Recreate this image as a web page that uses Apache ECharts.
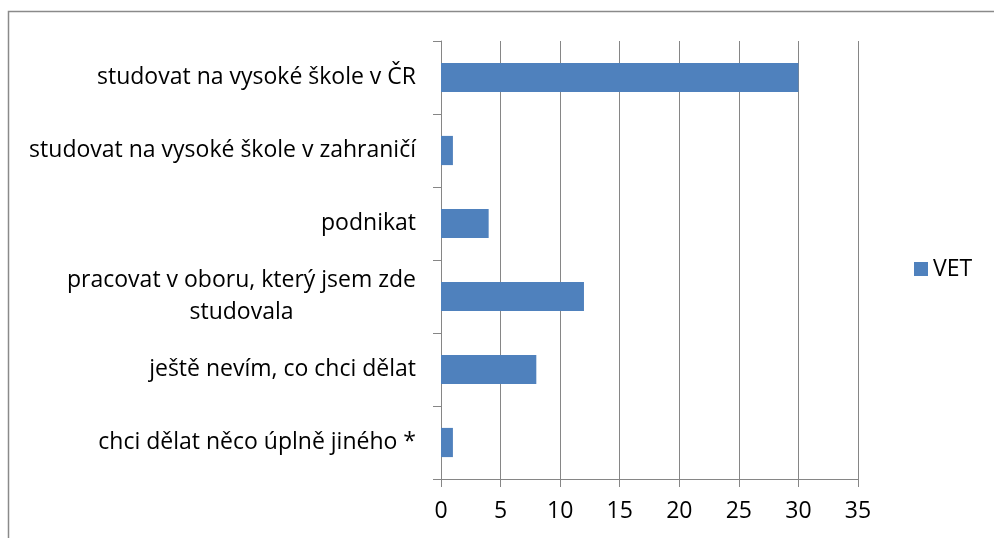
<!DOCTYPE html>
<html>
<head>
<meta charset="utf-8">
<script src="https://cdn.jsdelivr.net/npm/echarts@6/dist/echarts.min.js"></script>
<style>
  html, body { margin: 0; padding: 0; background: #fff; }
  #chart { width: 994px; height: 538px; }
</style>
</head>
<body>
<div id="chart"></div>
<script>
// kategorie shora dolů
var categories = [
  'studovat na vysoké škole v ČR',
  'studovat na vysoké škole v zahraničí',
  'podnikat',
  'pracovat v oboru, který jsem zde\nstudovala',
  'ještě nevím, co chci dělat',
  'chci dělat něco úplně jiného *'
];
var vetValues = [30, 1, 4, 12, 8, 1];
var seriesName = 'VET';
var xTicks = { min: 0, max: 35, interval: 5 };

var FONT = '"Open Sans", sans-serif';
var FONT_SIZE = 23;
var gray = '#868686';

// sirka nejdelsiho radku, aby se dvouradkove popisky daly vycentrovat
var ctx = document.createElement('canvas').getContext('2d');
ctx.font = FONT_SIZE + 'px ' + FONT;
var multiLines = categories[3].split('\n');
var richWidth = Math.ceil(Math.max.apply(null, multiLines.map(function (l) { return ctx.measureText(l).width; })));

var myChart = echarts.init(document.getElementById('chart'));
var option = {
  animation: false,
  backgroundColor: '#fff',
  textStyle: { fontFamily: FONT },
  graphic: [{
    type: 'rect',
    shape: { x: 8.5, y: 11.5, width: 1200, height: 1000 },
    style: { fill: 'none', stroke: '#8a8a8a', lineWidth: 1.5 },
    silent: true
  }],
  grid: {
    left: 441,
    right: 136,
    top: 41,
    bottom: 59,
    containLabel: false
  },
  legend: {
    data: [seriesName],
    left: 909,
    top: 'middle',
    itemWidth: 14,
    itemHeight: 14,
    itemGap: 6,
    icon: 'rect',
    textStyle: { fontSize: 23, color: '#000', fontFamily: FONT }
  },
  xAxis: {
    type: 'value',
    min: xTicks.min,
    max: xTicks.max,
    interval: xTicks.interval,
    axisLine: { show: true, lineStyle: { color: gray, width: 1 } },
    axisTick: { show: true, length: 8, lineStyle: { color: gray } },
    splitLine: { show: true, lineStyle: { color: gray, width: 1 } },
    axisLabel: { color: '#000', fontSize: 23, margin: 21 }
  },
  yAxis: {
    type: 'category',
    inverse: true,
    data: categories,
    axisLine: { show: true, lineStyle: { color: gray, width: 1 } },
    axisTick: { show: true, length: 8, lineStyle: { color: gray } },
    axisLabel: {
      color: '#000',
      fontSize: FONT_SIZE,
      margin: 25,
      lineHeight: 32,
      formatter: function (value) {
        var lines = value.split('\n');
        if (lines.length === 1) return value;
        return lines.map(function (l) { return '{c|' + l + '}'; }).join('\n');
      },
      rich: {
        c: { align: 'center', fontSize: FONT_SIZE, lineHeight: 32, color: '#000', fontFamily: FONT, width: richWidth }
      }
    }
  },
  series: [{
    name: seriesName,
    type: 'bar',
    data: vetValues,
    barCategoryGap: '60%',
    itemStyle: { color: '#4F81BD' }
  }]
};
myChart.setOption(option);
window.addEventListener('resize', function () { myChart.resize(); });
</script>
</body>
</html>
